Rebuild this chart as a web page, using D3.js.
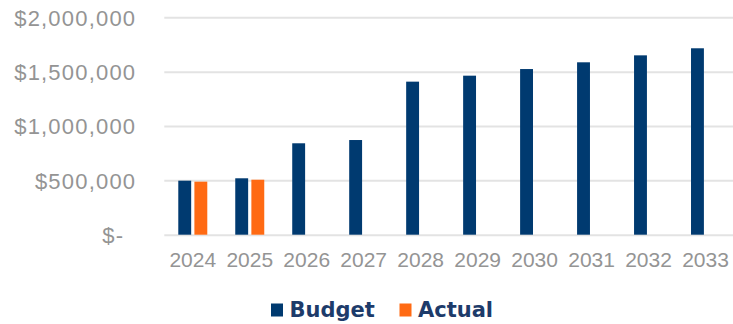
<!DOCTYPE html>
<html>
<head>
<meta charset="utf-8">
<script src="https://cdn.jsdelivr.net/npm/d3@7"></script>
<style>
  body { margin: 0; background: #fff; }
  .yaxis text, .xaxis text { fill: #949494; font-family: "Liberation Sans", Arial, sans-serif; }
  .legend text { fill: #1d3b6a; font-family: "DejaVu Sans", sans-serif; font-weight: bold; }
</style>
</head>
<body>
<script>
// chart data
var years = ["2024", "2025", "2026", "2027", "2028", "2029", "2030", "2031", "2032", "2033"];
var budget = [497000, 519000, 841000, 871000, 1408000, 1463000, 1524000, 1586000, 1650000, 1715000];
var actual = [488000, 506000, null, null, null, null, null, null, null, null];
var seriesNames = ["Budget", "Actual"];
var yTicks = [0, 500000, 1000000, 1500000, 2000000];

var colors = { Budget: "#003a70", Actual: "#ff6a13" };

var svgWidth = 733, svgHeight = 324;
var margin = { top: 17.3, right: 0, bottom: 89.3, left: 164.3 };
var width = svgWidth - margin.left - margin.right + 1;
var height = svgHeight - margin.top - margin.bottom;

var svg = d3.select("body").append("svg")
    .attr("width", svgWidth)
    .attr("height", svgHeight);

var chartGroup = svg.append("g")
    .attr("transform", `translate(${margin.left}, ${margin.top})`);

var rows = years.map(function (y, i) {
    return { year: y, values: [{ key: "Budget", v: budget[i] }, { key: "Actual", v: actual[i] }] };
});

var x0 = d3.scaleBand().domain(years).range([0, width]);
var x1 = d3.scaleBand().domain(seriesNames)
    .range([x0.bandwidth() / 2 - 14.5, x0.bandwidth() / 2 + 14.5])
    .paddingInner(0.2);

var yScale = d3.scaleLinear().domain([0, 2000000]).range([height, 0]);

// gridlines + y labels
var yAxis = d3.axisLeft(yScale)
    .tickValues(yTicks)
    .tickSize(-width)
    .tickPadding(28)
    .tickFormat(function (d) { return d === 0 ? "$-" : "$" + d3.format(",")(d); });

var yG = chartGroup.append("g").attr("class", "yaxis").call(yAxis);
yG.select(".domain").remove();
yG.selectAll("line").attr("stroke", "#e3e3e3").attr("stroke-width", 2);
yG.selectAll("text")
    .attr("font-size", "22px")
    .attr("letter-spacing", "1.2px")
    .attr("dy", "0.36em")
    .attr("dx", function (d) { return d === 0 ? -12 : 0; });

// bars
var groups = chartGroup.selectAll(".yearGroup")
    .data(rows)
    .enter()
    .append("g")
    .attr("class", "yearGroup")
    .attr("transform", d => `translate(${x0(d.year)}, 0)`);

groups.selectAll("rect")
    .data(d => d.values.filter(v => v.v != null))
    .enter()
    .append("rect")
    .attr("x", d => x1(d.key))
    .attr("y", d => yScale(d.v))
    .attr("width", x1.bandwidth())
    .attr("height", d => height - yScale(d.v))
    .attr("fill", d => colors[d.key]);

// x labels
var xAxis = d3.axisBottom(x0).tickSize(0).tickPadding(0);
var xG = chartGroup.append("g")
    .attr("class", "xaxis")
    .attr("transform", `translate(0, ${height})`)
    .call(xAxis);
xG.select(".domain").remove();
xG.selectAll("text")
    .attr("font-size", "21px")
    .attr("dy", null)
    .attr("y", 32.6);

// legend
var legend = svg.append("g").attr("class", "legend");
var legendX = [271, 399.5];
seriesNames.forEach(function (name, i) {
    legend.append("rect")
        .attr("x", legendX[i])
        .attr("y", 303.5)
        .attr("width", 12)
        .attr("height", 13)
        .attr("fill", colors[name]);
    legend.append("text")
        .attr("x", legendX[i] + 18.5)
        .attr("y", 317.3)
        .attr("font-size", "21px")
        .text(name);
});
</script>
</body>
</html>
